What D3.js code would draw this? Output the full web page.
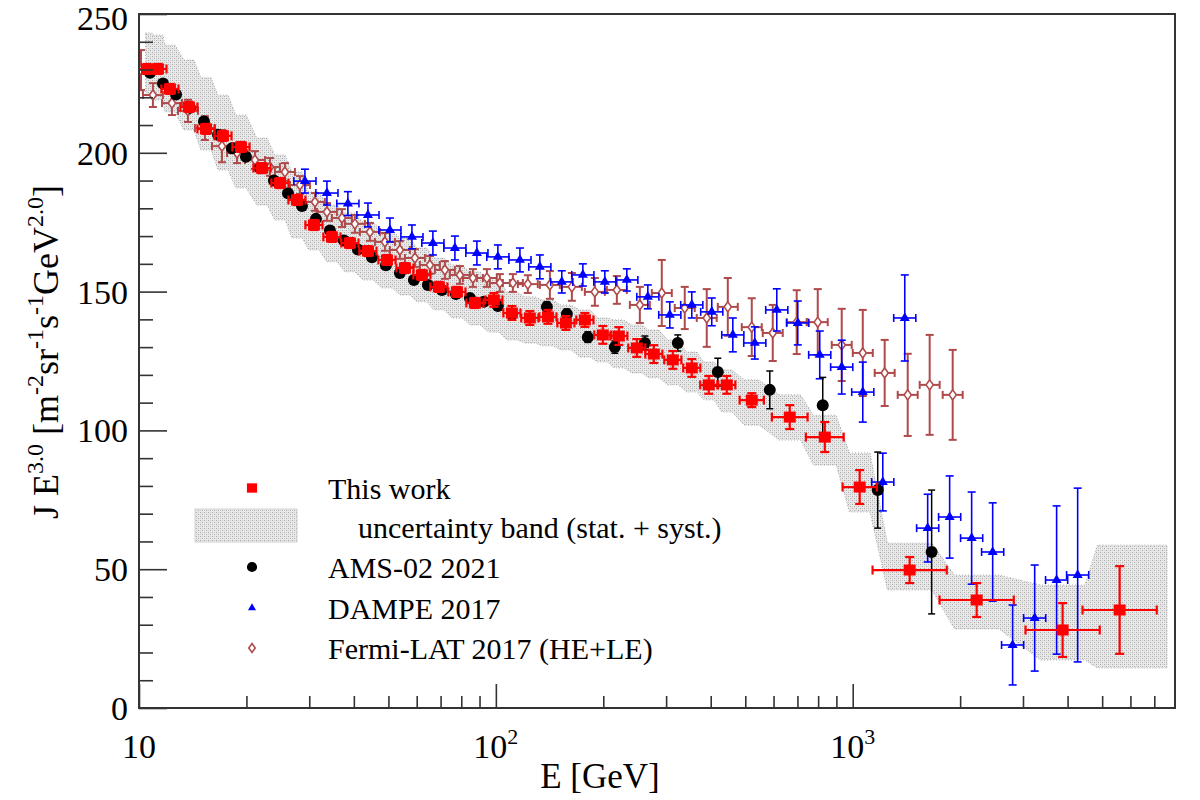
<!DOCTYPE html>
<html><head><meta charset="utf-8">
<script src="https://cdn.jsdelivr.net/npm/d3@7"></script>
<style>body{margin:0;background:#fff} svg{display:block} text{font-family:"Liberation Serif","Times New Roman",serif;fill:#000}</style>
</head><body><svg id="c" width="1200" height="800"></svg>
<script>
// ---------------- DATA ----------------
const xDomain = [10, 8000];
const yDomain = [0, 250];
const yMajorTicks = [0, 50, 100, 150, 200, 250];
const yMinorTicks = [10,20,30,40,60,70,80,90,110,120,130,140,160,170,180,190,210,220,230,240];
const xMajorTicks = [10, 100, 1000];
const xMajorBase = ["10", "10", "10"];
const xMajorSup = ["", "2", "3"];
const xMinorTicks = [20,30,40,50,60,70,80,90,200,300,400,500,600,700,800,900,2000,3000,4000,5000,6000,7000];

// This work (red squares)
const thisWorkE = [10.53,11.30,12.21,13.80,15.41,17.19,19.31,22.11,24.83,27.71,30.92,34.72,39.00,43.81,49.53,55.62,62.04,69.23,77.78,87.36,98.73,110.9,124.5,139.9,157.1,177.6,199.4,221.1,248.3,277.1,313.2,354.0,395.0,443.7,521.3,666.1,835.1,1046,1444,2225,3874,5597];
const thisWorkJ = [230.2,230.2,223.0,216.5,208.6,206.1,202.1,194.5,189.1,183.0,174.0,169.7,167.5,164.6,161.4,158.5,156.0,151.7,149.9,145.9,147.0,142.3,140.5,140.9,138.7,139.8,134.4,134.0,129.7,127.5,125.4,122.5,116.4,116.4,110.9,104.8,97.6,79.6,49.7,38.9,28.1,35.3];
const thisWorkErr = [1.8,1.8,1.8,1.8,1.8,1.8,1.8,1.8,1.8,1.8,1.8,1.8,1.8,1.8,1.8,1.8,1.8,1.8,1.8,1.8,2.5,2.5,2.5,2.5,2.5,2.5,3.2,3.2,3.2,3.2,3.2,3.2,3.2,3.2,2.5,4.3,5.4,6.1,4.7,6.1,9.7,15.8];
const thisWorkBinDec = [0.024,0.024,0.024,0.024,0.024,0.024,0.024,0.024,0.024,0.024,0.024,0.024,0.024,0.024,0.024,0.024,0.024,0.024,0.024,0.024,0.024,0.024,0.024,0.024,0.024,0.024,0.024,0.024,0.024,0.024,0.024,0.024,0.024,0.024,0.034,0.05,0.053,0.048,0.104,0.104,0.104,0.104];
// uncertainty band (stat. + syst.)
const bandHi = [243.2,242.4,238.8,233.4,227.0,220.8,213.6,205.3,199.2,193.1,185.9,181.2,178.3,175.1,172.2,169.3,165.7,162.1,159.6,157.1,154.2,149.9,148.1,147.0,145.2,143.4,140.5,139.8,138.0,136.2,132.6,128.2,124.6,121.8,118.2,112.8,105.5,91.9,59.4,47.9,44.3,58.7];
const bandLo = [220.8,219.0,214.7,208.2,201.0,193.8,187.3,181.2,175.8,169.3,165.0,160.7,157.1,154.2,151.3,148.8,146.3,143.4,140.5,138.0,135.4,132.6,131.5,130.4,129.0,126.4,124.6,122.5,120.7,118.9,116.4,113.8,111.0,106.6,101.9,96.5,87.5,70.6,42.5,28.5,17.3,14.4];
const bandEndE = 7600;

// AMS-02 2021 (black circles)
const amsE = [10.74,11.67,12.70,13.90,15.21,16.65,18.22,19.94,21.83,23.88,26.15,28.62,31.32,34.28,37.52,41.06,44.96,49.20,53.84,58.92,64.49,70.58,77.27,84.56,92.55,101.3,110.9,139.0,158.1,181.0,215.4,261.5,323.5,418.7,585.6,824.1,1175,1664];
const amsJ = [228.8,225.0,221.0,216.2,211.3,206.5,201.6,198.6,194.4,190.0,185.4,180.8,176.2,172.0,168.4,165.2,162.4,159.5,156.7,154.2,152.4,150.6,149.1,147.7,146.3,144.8,141.9,144.5,141.9,133.6,130.0,131.5,131.5,121.0,114.6,109.1,78.5,56.2];
const amsErr = [1.2,1.2,1.2,1.2,1.2,1.2,1.2,1.2,1.2,1.2,1.2,1.2,1.2,1.2,1.2,1.2,1.2,1.2,1.2,1.2,1.2,1.2,1.2,1.2,1.2,1.2,1.4,1.8,1.8,1.9,2.2,2.5,2.9,5.0,6.8,10.0,13.7,22.3];

// DAMPE 2017 (blue triangles)
const dampeE = [29.17,33.62,38.49,43.81,50.48,58.18,66.61,76.78,88.48,101.3,116.8,132.8,153.0,175.3,202.0,232.8,266.6,307.2,354.0,402.7,461.3,531.6,612.6,701.5,808.3,931.5,1067,1214,1399,1622,1869,2154,2467,2806,3235,3727,4269];
const dampeJ = [189.8,185.5,181.7,177.6,172.2,169.7,167.5,165.7,163.9,162.5,161.4,158.9,153.5,156.0,153.5,154.2,148.1,141.6,145.2,142.7,134.4,131.5,143.4,138.7,127.2,122.8,113.8,81.4,140.5,64.8,68.8,61.2,56.2,22.7,32.4,46.1,47.9];
const dampeErr = [4.3,4.3,4.3,4.3,4.3,4.3,4.3,4.3,4.3,4.3,4.3,4.3,4.0,4.0,4.0,4.0,4.3,4.7,4.7,5.0,6.1,5.8,7.6,7.9,8.6,9.7,10.8,10.4,15.5,12.2,14.8,16.6,17.7,14.4,19.1,26.7,31.3];
const dampeBinDec = 0.031;

// Fermi-LAT 2017 (HE+LE) (open diamonds)
const fermiE = [10.13,10.94,12.37,13.72,15.30,17.08,18.82,21.13,23.28,25.64,28.25,31.12,33.62,37.04,40.27,44.37,48.88,53.84,59.31,65.34,71.97,79.29,86.23,94.36,102.6,111.6,122.9,141.7,163.3,189.4,218.3,253.2,291.7,338.3,389.9,446.6,521.3,596.9,696.6,798.0,931.5,1067,1229,1426,1643,1906];
const fermiJ = [229.8,220.8,217.9,215.1,208.9,202.4,199.9,197.4,194.9,193.1,188.4,182.3,178.7,176.5,174.4,171.5,167.9,165.0,162.1,159.6,157.8,156.0,154.9,154.9,153.1,153.1,152.7,152.4,151.7,149.9,150.6,145.2,149.5,144.1,140.5,144.5,137.2,135.1,139.0,139.0,130.8,127.9,120.7,112.8,116.4,112.8];
const fermiErr = [7.2,4.3,4.3,4.0,4.3,5.8,3.6,3.2,3.2,3.2,3.2,3.2,3.2,3.2,3.2,3.2,3.2,3.2,3.2,3.2,3.2,3.2,3.2,3.2,3.2,3.2,3.2,5.0,5.0,5.0,5.0,6.5,11.9,7.6,10.4,10.4,10.4,10.1,11.5,11.9,13.0,15.5,11.9,14.8,18.0,16.2];
const fermiBinDec = 0.028;

const legendLabels = ["This work", "uncertainty band (stat. + syst.)", "AMS-02 2021", "DAMPE 2017", "Fermi-LAT 2017 (HE+LE)"];

// ---------------- CHART ----------------
const C = {red:"#ff0000", blue:"#0000ff", black:"#000000", brown:"#b04a4a", frame:"#333"};
const L=139, R=1175, T=14, B=708;
const x = d3.scaleLog().domain(xDomain).range([L, R]);
const y = d3.scaleLinear().domain(yDomain).range([B, T]);
const svg = d3.select("#c");

const defs = svg.append("defs");
const pat = defs.append("pattern").attr("id","hatch").attr("patternUnits","userSpaceOnUse").attr("width",4).attr("height",4);
pat.append("rect").attr("width",4).attr("height",4).attr("fill","#e9e9e9");
pat.append("rect").attr("x",0).attr("y",0).attr("width",1).attr("height",1).attr("fill","#aaaaaa");
pat.append("rect").attr("x",2).attr("y",2).attr("width",1).attr("height",1).attr("fill","#aaaaaa");
pat.append("rect").attr("x",2).attr("y",0).attr("width",1).attr("height",1).attr("fill","#cfcfcf");
pat.append("rect").attr("x",0).attr("y",2).attr("width",1).attr("height",1).attr("fill","#cfcfcf");
defs.append("clipPath").attr("id","plot").append("rect").attr("x",L).attr("y",T).attr("width",R-L).attr("height",B-T);

const plot = svg.append("g").attr("clip-path","url(#plot)");

// band polygon
const n = thisWorkE.length;
const upper = [], lower = [];
for (let i=0;i<n;i++){
  const h = thisWorkBinDec[i]*0.6;
  const e0 = i===0 ? thisWorkE[i]*Math.pow(10,-0.004) : thisWorkE[i]*Math.pow(10,-h);
  const e1 = i===n-1 ? bandEndE : thisWorkE[i]*Math.pow(10,h);
  upper.push([e0,bandHi[i]],[e1,bandHi[i]]);
  lower.push([e0,bandLo[i]],[e1,bandLo[i]]);
}
const poly = upper.concat(lower.reverse());
plot.append("path")
  .attr("d", d3.line().x(d=>x(d[0])).y(d=>y(d[1]))(poly)+"Z")
  .attr("fill","url(#hatch)").attr("stroke","#9a9a9a").attr("stroke-width",0.8).attr("stroke-dasharray","1,2");

function series(E, J, err, binDec, color, opt){
  const g = plot.append("g");
  const bw = opt.bw, cap = opt.cap;
  E.forEach((e,i)=>{
    const cx = x(e), cy = y(J[i]);
    const d = Array.isArray(binDec) ? binDec[i] : binDec;
    if (d){
      const xa = x(e*Math.pow(10,-d)), xb = x(e*Math.pow(10,d));
      g.append("line").attr("x1",xa).attr("x2",xb).attr("y1",cy).attr("y2",cy).attr("stroke",color).attr("stroke-width",bw);
      [xa,xb].forEach(xx=>g.append("line").attr("x1",xx).attr("x2",xx).attr("y1",cy-cap).attr("y2",cy+cap).attr("stroke",color).attr("stroke-width",bw));
    }
    const ya = y(J[i]-err[i]), yb = y(J[i]+err[i]);
    g.append("line").attr("x1",cx).attr("x2",cx).attr("y1",ya).attr("y2",yb).attr("stroke",color).attr("stroke-width",bw);
    [ya,yb].forEach(yy=>g.append("line").attr("x1",cx-cap).attr("x2",cx+cap).attr("y1",yy).attr("y2",yy).attr("stroke",color).attr("stroke-width",bw));
  });
  E.forEach((e,i)=>{ drawMarker(g, opt.marker, x(e), y(J[i]), color, 1); });
}
function drawMarker(g, m, cx, cy, color, s){
  if (m==="square") g.append("rect").attr("x",cx-6*s).attr("y",cy-5.5*s).attr("width",12*s).attr("height",11*s).attr("fill",color);
  else if (m==="circle") g.append("circle").attr("cx",cx).attr("cy",cy).attr("r",6*s).attr("fill",color);
  else if (m==="triangle") g.append("path").attr("d",d3.symbol(d3.symbolTriangle, 44*s*s)()).attr("transform",`translate(${cx},${cy})`).attr("fill",color);
  else if (m==="diamond") g.append("path").attr("d",`M0,${-5*s}L${3.6*s},0L0,${5*s}L${-3.6*s},0Z`).attr("transform",`translate(${cx},${cy})`).attr("fill","#fff").attr("stroke",color).attr("stroke-width",1.6);
}

series(fermiE, fermiJ, fermiErr, fermiBinDec, C.brown, {marker:"diamond", bw:2, cap:4});
series(dampeE, dampeJ, dampeErr, dampeBinDec, C.blue, {marker:"triangle", bw:1.6, cap:4});
series(amsE, amsJ, amsErr, 0, C.black, {marker:"circle", bw:1.5, cap:3.5});
series(thisWorkE, thisWorkJ, thisWorkErr, thisWorkBinDec, C.red, {marker:"square", bw:2.2, cap:4.5});

// axes
function styleAxis(g){ g.select(".domain").remove(); g.selectAll("line").attr("stroke",C.frame).attr("stroke-width",1.6); }
svg.append("g").attr("transform",`translate(0,${B})`).call(d3.axisBottom(x).tickValues(xMajorTicks).tickSize(-24).tickFormat("")).call(styleAxis);
svg.append("g").attr("transform",`translate(0,${B})`).call(d3.axisBottom(x).tickValues(xMinorTicks).tickSize(-12).tickFormat("")).call(styleAxis);
svg.append("g").attr("transform",`translate(${L},0)`).call(d3.axisLeft(y).tickValues(yMajorTicks).tickSize(-28).tickFormat("")).call(styleAxis);
svg.append("g").attr("transform",`translate(${L},0)`).call(d3.axisLeft(y).tickValues(yMinorTicks).tickSize(-14).tickFormat("")).call(styleAxis);
svg.append("rect").attr("x",L).attr("y",T).attr("width",R-L).attr("height",B-T).attr("fill","none").attr("stroke",C.frame).attr("stroke-width",2);

// tick labels
yMajorTicks.forEach(v=>svg.append("text").attr("x",128).attr("y",Math.max(y(v),18)).attr("dy","0.35em").attr("text-anchor","end").attr("font-size",34).text(v));
xMajorTicks.forEach((v,i)=>{
  const t = svg.append("text").attr("x",x(v)).attr("y",758).attr("text-anchor","middle").attr("font-size",34);
  t.append("tspan").text(xMajorBase[i]);
  if (xMajorSup[i]) t.append("tspan").attr("font-size",22).attr("dy",-14).text(xMajorSup[i]);
});
svg.append("text").attr("x",600).attr("y",788).attr("text-anchor","middle").attr("font-size",35).text("E [GeV]");

// y title
const yt = svg.append("text").attr("transform","translate(58,352) rotate(-90)").attr("text-anchor","middle").attr("font-size",36);
const parts = [["J E",0],["3.0",1],[" [m",0],["-2",1],["sr",0],["-1",1],["s",0],["-1",1],["GeV",0],["2.0",1],["]",0]];
let sup=false;
parts.forEach(([t,s])=>{
  const ts = yt.append("tspan").text(t);
  if (s && !sup){ ts.attr("dy",-15).attr("font-size",24); sup=true; }
  else if (s && sup){ ts.attr("font-size",24); }
  else if (!s && sup){ ts.attr("dy",15); sup=false; }
});

// legend
const lg = svg.append("g");
const lx = 252, tx = 328, fs = 30;
drawMarker(lg,"square",lx,488,C.red,0.85);
lg.append("text").attr("x",tx).attr("y",488).attr("dy","0.35em").attr("font-size",fs).text(legendLabels[0]);
lg.append("rect").attr("x",195).attr("y",509).attr("width",102).attr("height",33).attr("fill","url(#hatch)").attr("stroke","#c8c8c8").attr("stroke-width",0.8);
lg.append("text").attr("x",358).attr("y",527).attr("dy","0.35em").attr("font-size",fs).text(legendLabels[1]);
drawMarker(lg,"circle",lx,567,C.black,0.85);
lg.append("text").attr("x",tx).attr("y",567).attr("dy","0.35em").attr("font-size",fs).text(legendLabels[2]);
drawMarker(lg,"triangle",lx,608,C.blue,0.8);
lg.append("text").attr("x",tx).attr("y",608).attr("dy","0.35em").attr("font-size",fs).text(legendLabels[3]);
drawMarker(lg,"diamond",lx,648,C.brown,0.9);
lg.append("text").attr("x",tx).attr("y",648).attr("dy","0.35em").attr("font-size",fs).text(legendLabels[4]);
</script></body></html>
